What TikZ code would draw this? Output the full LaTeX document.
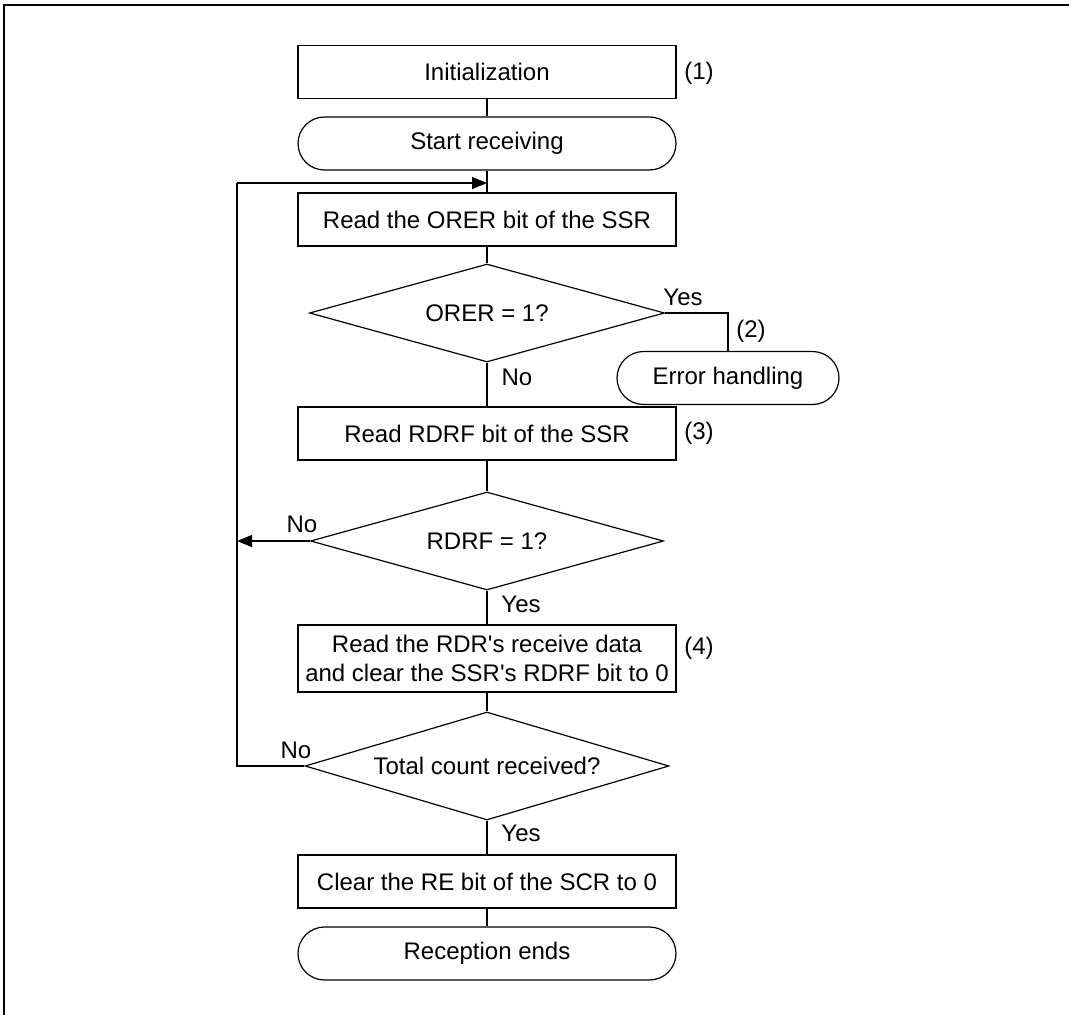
\documentclass[tikz,border=0pt]{standalone}
\usepackage{fontspec}
\setmainfont{Liberation Sans}
\usetikzlibrary{shapes.geometric,arrows.meta}

\begin{document}
\begin{tikzpicture}[x=1pt,y=-1pt,line width=1.2pt,
  every node/.style={inner sep=2pt,font=\fontsize{24}{29}\selectfont},
  proc/.style={draw,minimum width=378pt,minimum height=53pt,align=center},
  term/.style={draw,rounded corners=26.5pt,minimum width=378pt,minimum height=53pt},
  cond/.style={draw,diamond,aspect=3.5,minimum width=355pt,minimum height=98pt,inner sep=0pt},
  tip/.style={-{Triangle[length=15pt,width=12pt]}}]
\useasboundingbox (0,0) rectangle (1069,1015);
\draw (4,5) rectangle (1100,1050);
\node[proc] (init) at (487,72) {Initialization};
\node[term] (start) at (487,143.5) {Start receiving};
\node[proc] (rdorer) at (487,219.5) {Read the ORER bit of the SSR};
\node[cond] (orer) at (487,313) {ORER = 1?};
\node[term,minimum width=222pt] (err) at (728,378) {Error handling};
\node[proc] (rdrdrf) at (487,433.5) {Read RDRF bit of the SSR};
\node[cond,minimum width=353pt] (rdrf) at (487,541) {RDRF = 1?};
\node[proc,minimum height=67pt] (rddata) at (487,658.5)
  {Read the RDR\textquotesingle s receive data\\and clear the SSR\textquotesingle s RDRF bit to 0};
\node[cond,aspect=3.37,minimum width=364pt,minimum height=108pt] (total) at (487,766) {Total count received?};
\node[proc] (clrre) at (487,881.5) {Clear the RE bit of the SCR to 0};
\node[term] (rxend) at (487,953.5) {Reception ends};
\coordinate (loopin) at (487,183);
\coordinate (looplft) at (237,183);
\coordinate (nofix) at (237,541);
% numbered notes
\node (nin) at (699,73) {(1)};
\node (nerr) at (751,331) {(2)};
\node (nrdrf) at (699,433) {(3)};
\node (ndata) at (699,648) {(4)};
% branch labels
\node (yorer) at (683,297) {Yes};
\node (norer) at (517,377) {No};
\node (nrd) at (302,524) {No};
\node (yrd) at (521,604) {Yes};
\node (ntot) at (296,750) {No};
\node (ytot) at (521,833) {Yes};
\draw (init)--(start);
\draw (start)--(rdorer);
\draw (rdorer)--(orer);
\draw (orer.east)-|(err.north);
\draw (orer)--(rdrdrf);
\draw (rdrdrf)--(rdrf);
\draw[tip] (rdrf.west)--(nofix);
\draw (rdrf)--(rddata);
\draw (rddata)--(total);
\draw (total.west)-|(looplft);
\draw[tip] (looplft)--(loopin);
\draw (total)--(clrre);
\draw (clrre)--(rxend);
\end{tikzpicture}
\end{document}
